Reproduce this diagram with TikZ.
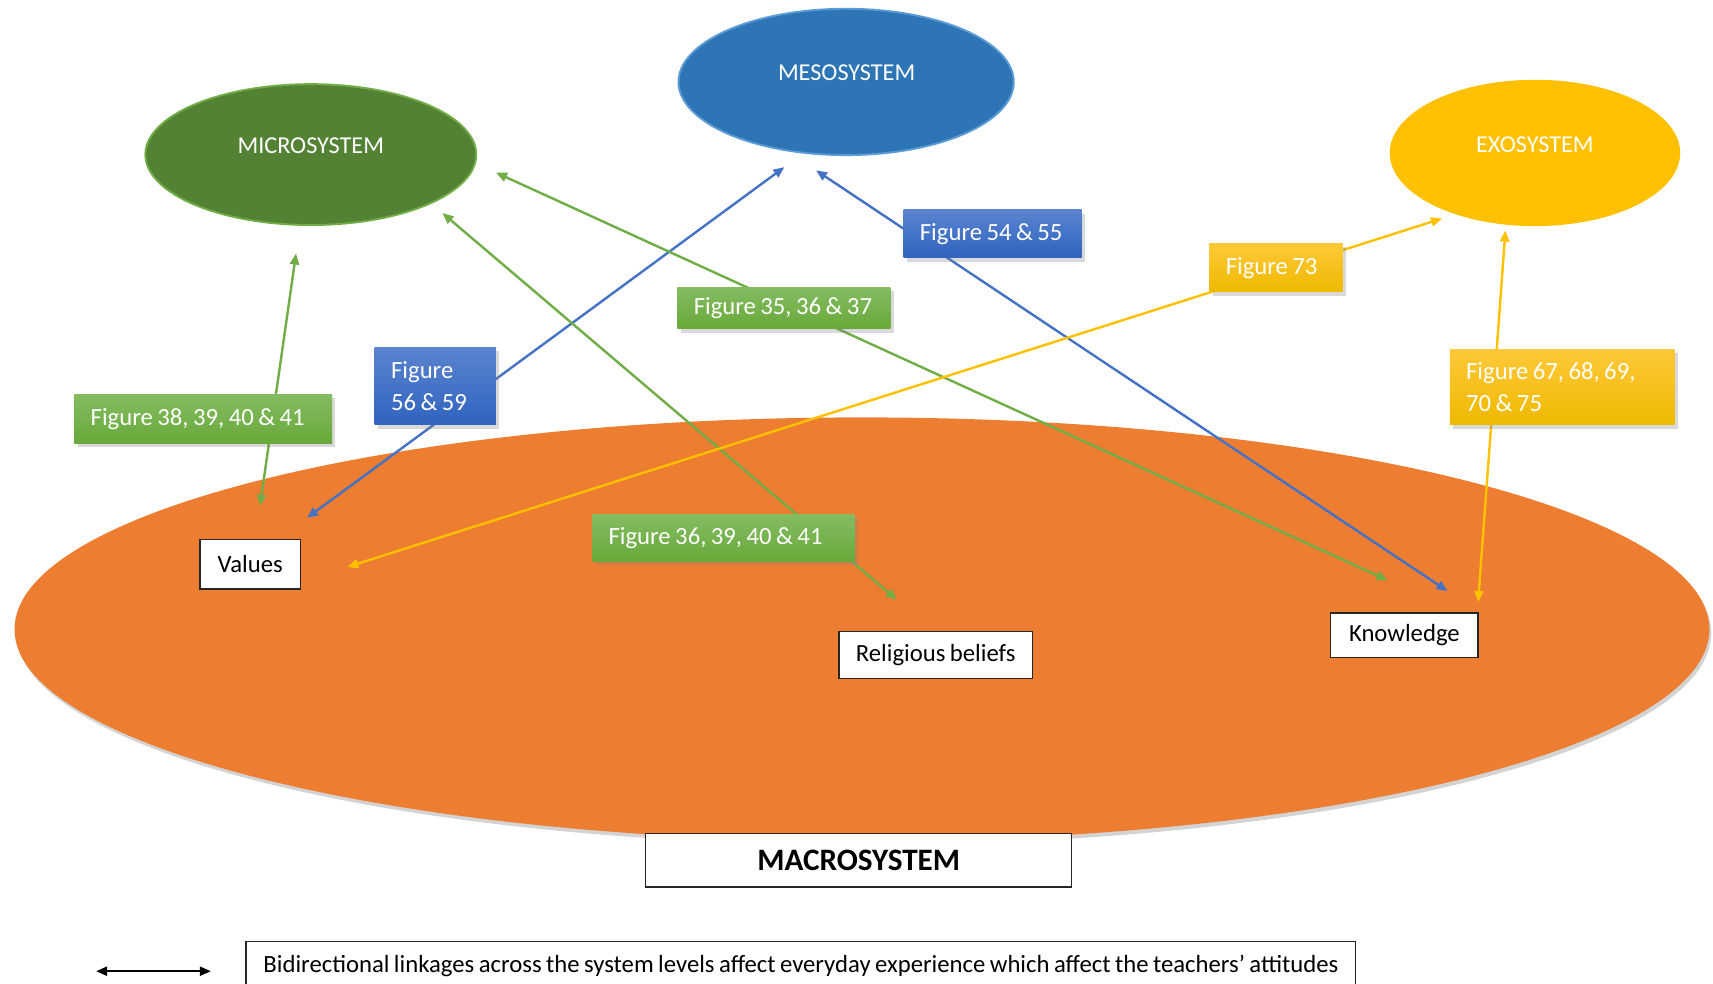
\documentclass[tikz,border=0pt]{standalone}
\usepackage{fontspec}
\setmainfont{Carlito}[WordSpace=0.8]
\usetikzlibrary{arrows.meta,shapes.geometric,shadows}

\definecolor{microfill}{HTML}{548235}
\definecolor{microline}{HTML}{70AD47}
\definecolor{mesofill}{HTML}{2E75B6}
\definecolor{mesoline}{HTML}{5B9BD5}
\definecolor{exofill}{HTML}{FFC000}
\definecolor{macrofill}{HTML}{ED7D31}
\definecolor{lgreen}{HTML}{70AD47}
\definecolor{lblue}{HTML}{4472C4}
\definecolor{lyellow}{HTML}{FFC000}
\definecolor{gtop}{HTML}{84BC61}
\definecolor{gbot}{HTML}{68A93A}
\definecolor{btop}{HTML}{5A84CE}
\definecolor{bbot}{HTML}{3063C0}
\definecolor{ytop}{HTML}{FFC83A}
\definecolor{ybot}{HTML}{EEB900}

\begin{document}
\begin{tikzpicture}[x=0.016cm, y=-0.016cm,
  basefont/.style={font=\fontsize{10.3}{13.2}\selectfont},
  sys/.style={ellipse, inner sep=0pt},
  systext/.style={font=\fontsize{10.1}{12}\selectfont, text=white, inner sep=0pt},
  link/.style={line width=1pt, {Triangle[length=4.6pt,width=3.8pt]}-{Triangle[length=4.6pt,width=3.8pt]}},
  greenlink/.style={link, draw=lgreen},
  bluelink/.style={link, draw=lblue},
  yellowlink/.style={link, draw=lyellow},
  figbox/.style={rectangle, basefont, text=white, align=flush left, inner xsep=0.24cm, inner ysep=0pt,
    drop shadow={shadow xshift=1.4pt, shadow yshift=-1.6pt, opacity=0.3}},
  greenbox/.style={figbox, top color=gtop, bottom color=gbot},
  bluebox/.style={figbox, top color=btop, bottom color=bbot},
  yellowbox/.style={figbox, top color=ytop, bottom color=ybot},
  whitebox/.style={rectangle, draw=black!85, line width=0.6pt, fill=white, basefont, inner sep=0pt}
]
\useasboundingbox (0,0) rectangle (1568,900);

% macrosystem field
\node[sys, fill=macrofill, minimum width=24.832cm, minimum height=6.208cm,
  drop shadow={shadow xshift=0.8pt, shadow yshift=-1.6pt, opacity=0.35}] (macro) at (789,576) {};

% system ellipses
\node[sys, fill=microfill, draw=microline, line width=0.8pt, minimum width=4.848cm, minimum height=2.064cm] (micro) at (284.5,141.5) {};
\node[sys, fill=mesofill, draw=mesoline, line width=0.8pt, minimum width=4.912cm, minimum height=2.144cm] (meso) at (774.5,75) {};
\node[sys, fill=exofill, minimum width=4.256cm, minimum height=2.144cm] (exo) at (1405,140) {};
\node[systext] (microtxt) at (284.5,133) {MICROSYSTEM};
\node[systext] (mesotxt) at (775,66.5) {MESOSYSTEM};
\node[systext] (exotxt) at (1405,132.5) {EXOSYSTEM};

% connector end points
\coordinate (g38a) at (238,463);  \coordinate (g38b) at (271,232);
\coordinate (b56a) at (281,474);  \coordinate (b56b) at (718,153);
\coordinate (g36a) at (405,195);  \coordinate (g36b) at (821,549);
\coordinate (g35a) at (454,158);  \coordinate (g35b) at (1270,531);
\coordinate (b54a) at (747,156);  \coordinate (b54b) at (1325,541);
\coordinate (y73a) at (1320,200); \coordinate (y73b) at (318,519);
\coordinate (y67a) at (1378,211); \coordinate (y67b) at (1353,551);

% bidirectional linkages
\draw[greenlink] (g38a) -- (g38b);
\draw[bluelink] (b56a) -- (b56b);
\draw[greenlink] (g36a) -- (g36b);
\draw[greenlink] (g35a) -- (g35b);
\draw[bluelink] (b54a) -- (b54b);
\draw[yellowlink] (y73a) -- (y73b);
\draw[yellowlink] (y67a) -- (y67b);

% figure reference labels
\node[greenbox, text width=3.296cm, minimum height=0.72cm] (fig38) at (186,383.5) {\mbox{Figure 38, 39, 40 \& 41}};
\node[bluebox, text width=1.296cm, minimum height=1.136cm] (fig56) at (398.5,353.5) {Figure\\56 \& 59};
\node[greenbox, text width=2.64cm, minimum height=0.608cm] (fig35) at (717.5,282) {\mbox{Figure 35, 36 \& 37}};
\node[bluebox, text width=2.128cm, minimum height=0.704cm] (fig54) at (908.5,214) {\mbox{Figure 54 \& 55}};
\node[yellowbox, text width=1.472cm, minimum height=0.704cm] (fig73) at (1168,245) {\mbox{Figure 73}};
\node[yellowbox, text width=2.816cm, minimum height=1.104cm] (fig67) at (1430,354.5) {\mbox{Figure 67, 68, 69,}\\70 \& 75};
\node[greenbox, text width=3.36cm, minimum height=0.688cm] (fig36) at (662,492.5) {\mbox{Figure 36, 39, 40 \& 41}};

% macrosystem elements
\node[whitebox, minimum width=1.472cm, minimum height=0.72cm] (values) at (229,516.5) {Values};
\node[whitebox, minimum width=2.832cm, minimum height=0.688cm] (relig) at (856.5,599.5) {Religious beliefs};
\node[whitebox, minimum width=2.16cm, minimum height=0.656cm] (know) at (1285.5,581.5) {Knowledge};
\node[whitebox, minimum width=6.24cm, minimum height=0.784cm, font=\fontsize{13}{15}\selectfont\bfseries] (macrolbl) at (786,787.5) {MACROSYSTEM};

% key
\coordinate (keyl) at (88,889);
\coordinate (keyr) at (193,889);
\draw[line width=0.9pt, {Triangle[length=4.6pt,width=3.8pt]}-{Triangle[length=4.6pt,width=3.8pt]}] (keyl) -- (keyr);
\node[whitebox, align=flush left, text width=15.744cm, inner xsep=0.256cm, minimum height=0.704cm] (key) at (733,884)
  {\mbox{Bidirectional linkages across the system levels affect everyday experience which affect the teachers’ attitudes}};
\end{tikzpicture}
\end{document}
